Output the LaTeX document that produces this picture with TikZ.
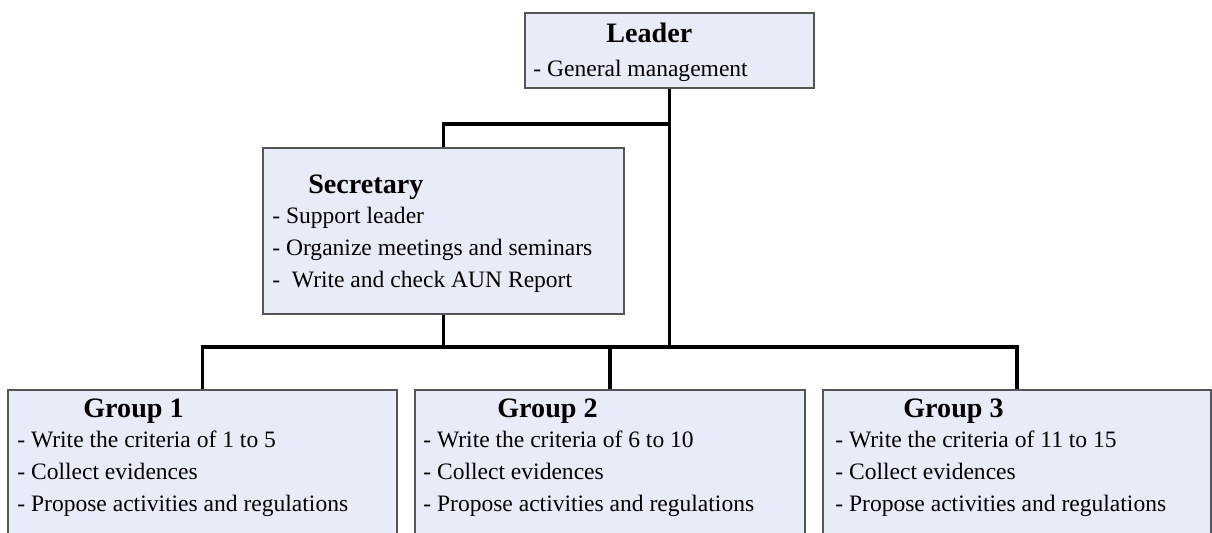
\documentclass[tikz,border=0pt]{standalone}
\usepackage{fontspec}
\setmainfont{Liberation Serif}

\definecolor{boxfill}{HTML}{E8ECF8}
\definecolor{boxline}{HTML}{555555}

\tikzset{
  box/.style={draw=boxline, fill=boxfill, line width=0.8pt, inner sep=0pt},
  link/.style={line width=2.2pt, line join=miter},
  title/.style={anchor=base west, inner sep=0pt, font=\fontsize{16}{19}\selectfont\bfseries},
  body/.style={anchor=base west, inner sep=0pt, align=left, font=\fontsize{13.4}{18.2}\selectfont}
}

\begin{document}
\begin{tikzpicture}[x=0.02cm, y=-0.02cm]
  % Rahmen
  \clip (0,0) rectangle (1212,532);
  \fill[white] (0,0) rectangle (1212,532);

  % Kaesten
  \node[box, minimum width=289*0.02cm, minimum height=75*0.02cm] (leader) at (669.5,50.5) {};
  \node[box, minimum width=361*0.02cm, minimum height=166*0.02cm] (secretary) at (443.5,231) {};
  \node[box, minimum width=389*0.02cm, minimum height=200*0.02cm] (group1) at (202.5,490) {};
  \node[box, minimum width=390*0.02cm, minimum height=200*0.02cm] (group2) at (610,490) {};
  \node[box, minimum width=388*0.02cm, minimum height=200*0.02cm] (group3) at (1017,490) {};

  % Verbindungen
  \coordinate (bus) at (0,347);
  \coordinate (split) at (0,124);
  \draw[link] (leader.south) -- (leader.south |- bus);
  \draw[link] (secretary.north) |- (leader.south |- split);
  \draw[link] (secretary.south) -- (secretary.south |- bus);
  \draw[link] (group1.north) |- (group3.north |- bus) -- (group3.north);
  \draw[link] (group2.north) -- (group2.north |- bus);

  % Beschriftungen (Grundlinie der letzten Zeile)
  \node[title] (leadertitle) at (606,42) {Leader};
  \node[body] (leadertext) at (533,76) {- General management};

  \node[title] (secretarytitle) at (308,193) {Secretary};
  \node[body] (secretarytext) at (272,287) {- Support leader\\- Organize meetings and seminars\\-~ Write and check AUN Report};

  \node[title] (group1title) at (83,417) {Group 1};
  \node[body] (group1text) at (17,511) {- Write the criteria of 1 to 5\\- Collect evidences\\- Propose activities and regulations};

  \node[title] (group2title) at (497,417) {Group 2};
  \node[body] (group2text) at (423,511) {- Write the criteria of 6 to 10\\- Collect evidences\\- Propose activities and regulations};

  \node[title] (group3title) at (903,417) {Group 3};
  \node[body] (group3text) at (835,511) {- Write the criteria of 11 to 15\\- Collect evidences\\- Propose activities and regulations};
\end{tikzpicture}
\end{document}
